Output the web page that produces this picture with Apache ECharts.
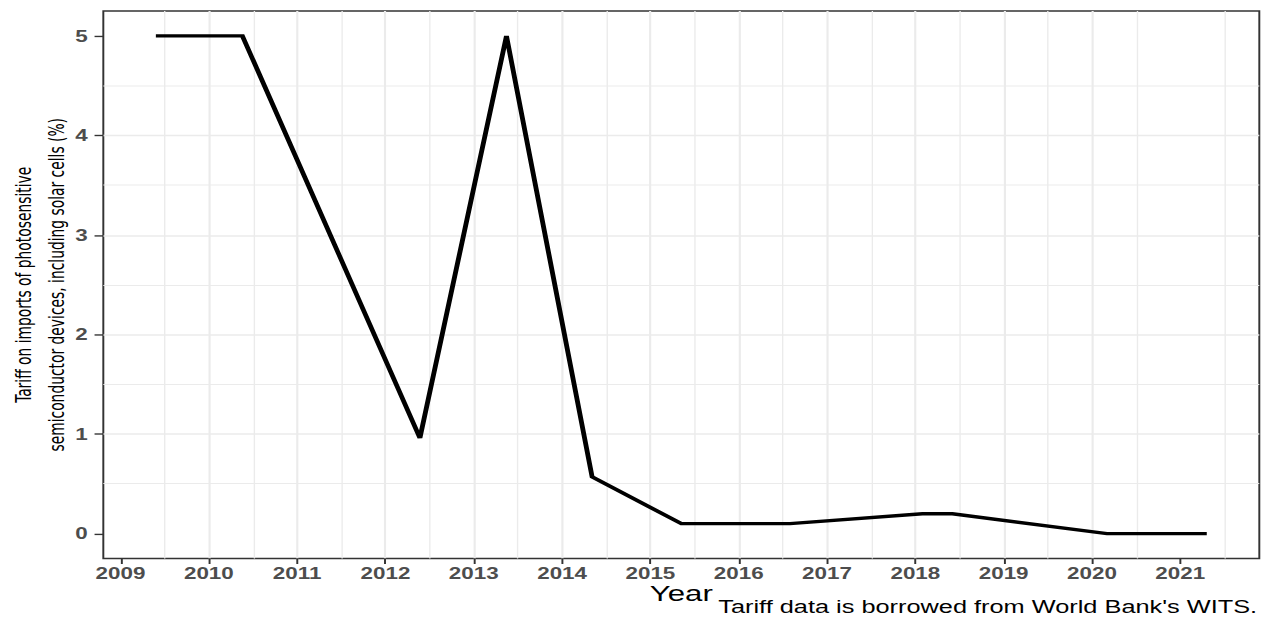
<!DOCTYPE html>
<html>
<head>
<meta charset="utf-8">
<script src="https://cdn.jsdelivr.net/npm/echarts@6.0.0/dist/echarts.min.js"></script>
<style>
  html, body { margin: 0; padding: 0; background: #ffffff; overflow: hidden; width: 1271px; height: 619px; }
  #chart { width: 652px; height: 450px; transform-origin: 0 0; transform: scale(1.9494, 1.3756); }
</style>
</head>
<body>
<div id="chart"></div>
<script>
// ---- data ----
const obsYears = [2009.40, 2010.38, 2012.39, 2013.37, 2014.34, 2015.35, 2016.58, 2018.08, 2018.42, 2020.17, 2021.30];
const tariff   = [5.00,    5.00,    0.96,    5.00,    0.57,    0.10,    0.10,    0.20,    0.20,    0.00,    0.00];
const xTickYears = [2009, 2010, 2011, 2012, 2013, 2014, 2015, 2016, 2017, 2018, 2019, 2020, 2021];
const yTickValues = [0, 1, 2, 3, 4, 5];
const yTitle = 'Tariff on imports of photosensitive\nsemiconductor devices, including solar cells (%)';
const xTitle = 'Year';
const caption = "Tariff data is borrowed from World Bank's WITS.";

// ggplot-style 5% expansion of the data range
function expand(vals, f) {
  const lo = Math.min(...vals), hi = Math.max(...vals), r = hi - lo;
  return [lo - f * r, hi + f * r];
}
const [xMin, xMax] = expand(obsYears, 0.05);
const [yMin, yMax] = expand(tariff, 0.05);
const xMinor = xTickYears.map(v => v + 0.5).filter(v => v < xMax);
const yMinor = yTickValues.map(v => v + 0.5).filter(v => v < yMax);

const FONT = 'Liberation Sans, Arial, sans-serif';
const NARROW = 'DejaVu Sans Condensed, Liberation Sans, sans-serif';
const gridColor = '#ebebeb';

const chart = echarts.init(document.getElementById('chart'), null, { renderer: 'svg' });
chart.setOption({
  animation: false,
  backgroundColor: '#ffffff',
  title: {
    text: caption,
    right: 7, bottom: 2, padding: 0,
    textStyle: { fontFamily: FONT, fontSize: 13, fontWeight: 'normal', color: '#000000' }
  },
  grid: {
    left: 53, right: 6, top: 8, bottom: 44,
    outerBoundsMode: 'none', containLabel: false,
    show: true, borderColor: '#333333', borderWidth: 1, backgroundColor: 'transparent'
  },
  xAxis: {
    type: 'value', min: xMin, max: xMax, splitNumber: 13,
    name: xTitle, nameLocation: 'middle', nameGap: 17.5, nameMoveOverlap: false,
    nameTextStyle: { fontFamily: FONT, fontSize: 16, lineHeight: 16, color: '#000000' },
    axisLine: { show: false, onZero: false },
    axisTick: { show: true, customValues: xTickYears, length: 4, lineStyle: { color: '#333333', width: 1 } },
    axisLabel: {
      customValues: xTickYears, margin: 5, interval: 0, lineHeight: 12,
      fontFamily: FONT, fontSize: 11.5, fontWeight: 'bold', color: '#4d4d4d',
      formatter: v => (Number.isInteger(v) ? String(v) : '')
    },
    splitLine: { show: true, showMinLine: false, showMaxLine: false, lineStyle: { color: gridColor, width: 1.1 } }
  },
  yAxis: {
    type: 'value', min: yMin, max: yMax, splitNumber: 5,
    name: yTitle, nameLocation: 'middle', nameRotate: 90, nameGap: 16, nameMoveOverlap: false,
    nameTextStyle: { fontFamily: NARROW, fontSize: 11.2, color: '#000000', lineHeight: 17, align: 'center' },
    axisLine: { show: false, onZero: false },
    axisTick: { show: true, customValues: yTickValues, length: 4.5, lineStyle: { color: '#333333', width: 1 } },
    axisLabel: {
      customValues: yTickValues, margin: 8,
      fontFamily: FONT, fontSize: 11.5, fontWeight: 'bold', color: '#4d4d4d',
      formatter: v => (Number.isInteger(v) ? String(v) : '')
    },
    splitLine: { show: true, showMinLine: false, showMaxLine: false, lineStyle: { color: gridColor, width: 1.1 } }
  },
  series: [
    {
      // minor grid lines (half-year / half-percent) drawn through the axes' scales
      type: 'line', silent: true, z: 1,
      data: obsYears.map((x, i) => [x, tariff[i]]),
      showSymbol: false, lineStyle: { opacity: 0, width: 0 },
      markLine: {
        silent: true, symbol: ['none', 'none'], label: { show: false },
        lineStyle: { color: gridColor, width: 0.7, type: 'solid' },
        emphasis: { disabled: true },
        data: xMinor.map(v => ({ xAxis: v })).concat(yMinor.map(v => ({ yAxis: v })))
      }
    },
    {
      type: 'line', z: 5,
      data: obsYears.map((x, i) => [x, tariff[i]]),
      showSymbol: false, symbol: 'none',
      lineStyle: { color: '#000000', width: 2.5, join: 'miter' }
    }
  ]
});
</script>
</body>
</html>
